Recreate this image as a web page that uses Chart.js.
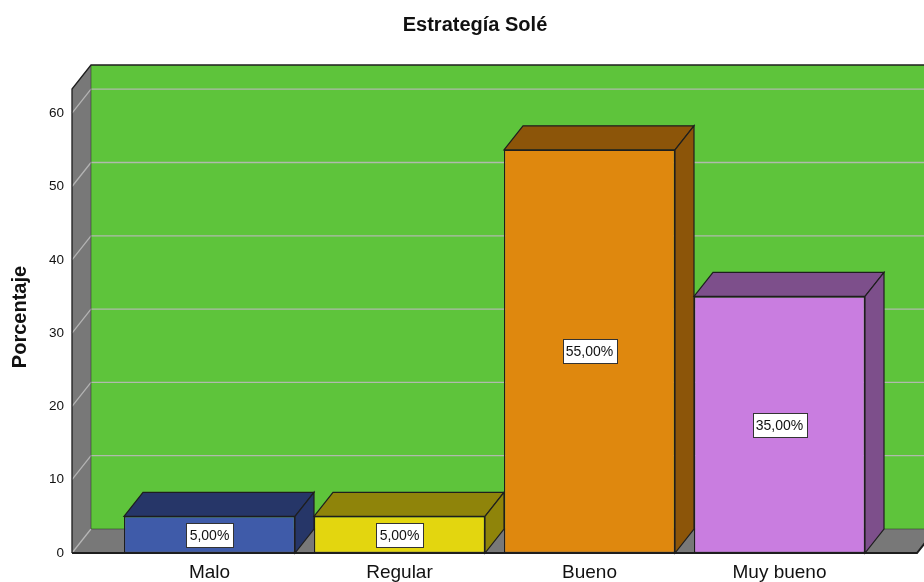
<!DOCTYPE html>
<html><head><meta charset="utf-8">
<script src="https://cdn.jsdelivr.net/npm/chart.js@4/dist/chart.umd.min.js"></script>
<style>html,body{margin:0;padding:0;background:#fff;overflow:hidden}#wrap{position:relative;width:924px;height:582px}</style>
</head><body><div id="wrap"><canvas id="c"></canvas></div>
<script>
// ---- data ----
const categories = ['Malo', 'Regular', 'Bueno', 'Muy bueno'];
const percentages = [5, 5, 55, 35];
const valueLabels = ['5,00%', '5,00%', '55,00%', '35,00%'];
const yTickValues = [0, 10, 20, 30, 40, 50, 60];
const yAxisMax = 63.3;
const chartTitle = 'Estrategía Solé';
const yAxisTitle = 'Porcentaje';

// ---- style ----
const FONT = "'Liberation Sans', Arial, Helvetica, sans-serif";
const frontColors = ['#3F5BA9', '#E3D60F', '#DF880E', '#C97DE0'];
const sideColors = ['#263668', '#8F840A', '#8C5509', '#7D4F8B'];
const WALL_GREEN = '#5EC43B';
const WALL_GRAY = '#787878';
const GRID = 'rgba(185,185,185,0.9)';
const EDGE = '#1e1e1e';
const DX = 19, DY = 24;          // 3D depth offset
const FRAME_MARGIN = 0.2237;     // frame extends beyond outer categories (in category units)

const depthPlugin = {
  id: 'depth3d',
  beforeDatasetsDraw(chart) {
    const ctx = chart.ctx, xs = chart.scales.x, ys = chart.scales.y;
    const n = categories.length;
    const L = xs.getPixelForValue(-0.5 - FRAME_MARGIN);
    const R = xs.getPixelForValue(n - 0.5 + FRAME_MARGIN);
    const top = ys.getPixelForValue(yAxisMax);
    const base = ys.getPixelForValue(0);
    ctx.save();
    ctx.fillStyle = WALL_GREEN;
    ctx.fillRect(L + DX, top - DY, R - L, base - top);
    ctx.fillStyle = WALL_GRAY;
    ctx.beginPath();
    ctx.moveTo(L, base); ctx.lineTo(L, top); ctx.lineTo(L + DX, top - DY); ctx.lineTo(L + DX, base - DY);
    ctx.closePath(); ctx.fill();
    ctx.beginPath();
    ctx.moveTo(L, base); ctx.lineTo(R, base); ctx.lineTo(R + DX, base - DY); ctx.lineTo(L + DX, base - DY);
    ctx.closePath(); ctx.fill();
    ctx.strokeStyle = GRID; ctx.lineWidth = 1.3;
    yTickValues.forEach(v => {
      const py = ys.getPixelForValue(v);
      ctx.beginPath();
      ctx.moveTo(L, py); ctx.lineTo(L + DX, py - DY);
      if (v > 0) ctx.lineTo(R + DX, py - DY);
      ctx.stroke();
    });
    ctx.strokeStyle = EDGE; ctx.lineWidth = 1.3;
    ctx.beginPath();
    ctx.moveTo(L, base); ctx.lineTo(L, top); ctx.lineTo(L + DX, top - DY); ctx.lineTo(R + DX + 5, top - DY);
    ctx.stroke();
    ctx.strokeStyle = 'rgba(40,40,40,0.5)'; ctx.lineWidth = 1;
    ctx.beginPath();
    ctx.moveTo(L + DX, top - DY); ctx.lineTo(L + DX, base - DY); ctx.lineTo(R + DX, base - DY);
    ctx.stroke();
    ctx.strokeStyle = EDGE; ctx.lineWidth = 2;
    ctx.beginPath();
    ctx.moveTo(L, base); ctx.lineTo(R, base); ctx.lineTo(R + DX, base - DY);
    ctx.stroke();
    const meta = chart.getDatasetMeta(0);
    ctx.lineWidth = 1.2; ctx.strokeStyle = EDGE;
    meta.data.forEach((el, i) => {
      const p = el.getProps(['x', 'y', 'base', 'width'], true);
      const x0 = p.x - p.width / 2, x1 = p.x + p.width / 2;
      ctx.fillStyle = sideColors[i];
      ctx.beginPath();
      ctx.moveTo(x0, p.y); ctx.lineTo(x0 + DX, p.y - DY); ctx.lineTo(x1 + DX, p.y - DY); ctx.lineTo(x1, p.y);
      ctx.closePath(); ctx.fill(); ctx.stroke();
      ctx.beginPath();
      ctx.moveTo(x1, p.y); ctx.lineTo(x1 + DX, p.y - DY); ctx.lineTo(x1 + DX, p.base - DY); ctx.lineTo(x1, p.base);
      ctx.closePath(); ctx.fill(); ctx.stroke();
    });
    ctx.restore();
  },
  afterDatasetsDraw(chart) {
    const ctx = chart.ctx;
    const meta = chart.getDatasetMeta(0);
    ctx.save();
    ctx.font = '14px ' + FONT;
    ctx.textAlign = 'center'; ctx.textBaseline = 'middle';
    meta.data.forEach((el, i) => {
      const p = el.getProps(['x', 'y', 'base'], true);
      const cy = (p.y + p.base) / 2;
      const tw = ctx.measureText(valueLabels[i]).width;
      const w = Math.round(tw + 7), h = 24;
      const bx = Math.round(p.x - w / 2) + 0.5, by = Math.round(cy - h / 2) + 0.5;
      ctx.fillStyle = '#ffffff';
      ctx.fillRect(bx, by, w, h);
      ctx.strokeStyle = '#333333'; ctx.lineWidth = 1;
      ctx.strokeRect(bx, by, w, h);
      ctx.fillStyle = '#111111';
      ctx.fillText(valueLabels[i], p.x, cy + 1);
    });
    ctx.restore();
  },
  afterDraw(chart) {
    const ctx = chart.ctx, area = chart.chartArea;
    ctx.save();
    ctx.fillStyle = '#111111';
    ctx.textAlign = 'center'; ctx.textBaseline = 'middle';
    ctx.font = 'bold 20px ' + FONT;
    ctx.fillText(chartTitle, 475, 25);
    ctx.translate(20, (area.top + area.bottom) / 2 - 4);
    ctx.rotate(-Math.PI / 2);
    ctx.fillText(yAxisTitle, 0, 0);
    ctx.restore();
  }
};

new Chart(document.getElementById('c'), {
  type: 'bar',
  data: {
    labels: categories,
    datasets: [{
      data: percentages,
      backgroundColor: frontColors,
      borderColor: EDGE,
      borderWidth: 1.2,
      borderSkipped: false,
      categoryPercentage: 1,
      barPercentage: 0.9
    }]
  },
  options: {
    responsive: true,
    maintainAspectRatio: false,
    devicePixelRatio: 1,
    animation: false,
    layout: { padding: { top: 89, right: 49.5, bottom: 0, left: 0 } },
    plugins: { legend: { display: false }, tooltip: { enabled: false }, title: { display: false } },
    scales: {
      x: {
        type: 'category',
        offset: true,
        grid: { display: false, drawTicks: false, tickLength: 0 },
        border: { display: false },
        ticks: { font: { family: FONT, size: 19 }, color: '#111111', padding: 8, maxRotation: 0, autoSkip: false },
        afterFit(s) { s.height = 29; }
      },
      y: {
        type: 'linear',
        min: 0,
        max: yAxisMax,
        grid: { display: false, drawTicks: false, tickLength: 0 },
        border: { display: false },
        ticks: { stepSize: 10, includeBounds: false, font: { family: FONT, size: 13.5 }, color: '#111111', padding: 50.5 },
        afterFit(s) { s.width = 114.5; s.paddingTop = 8; s.paddingBottom = 8; }
      }
    }
  },
  plugins: [depthPlugin]
});
</script>
</body></html>
